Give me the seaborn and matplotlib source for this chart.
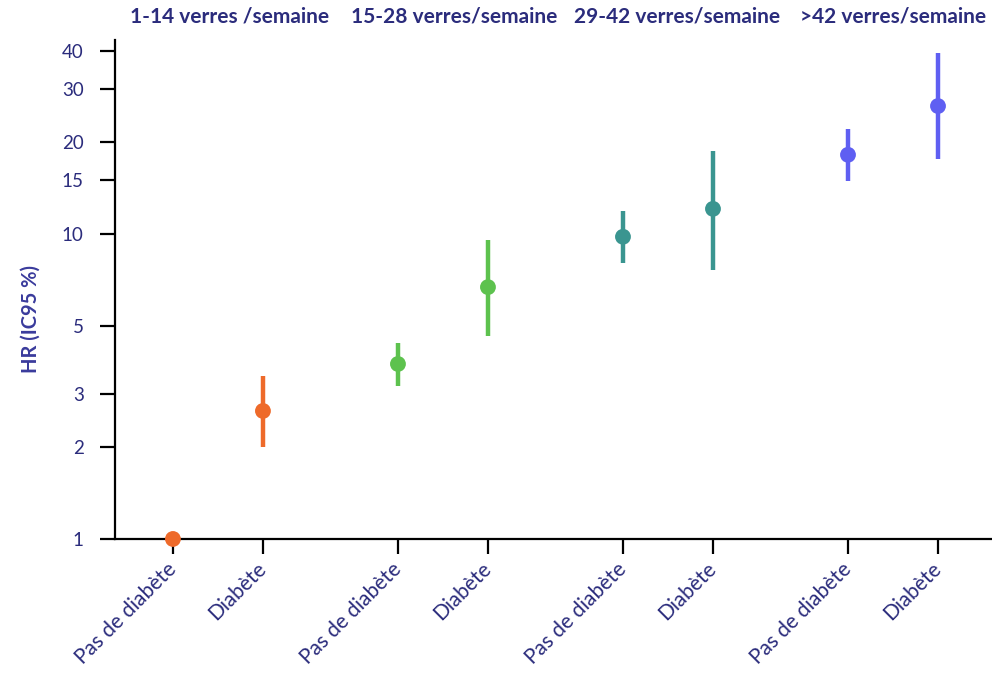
import numpy as np
import pandas as pd
import matplotlib
matplotlib.use("Agg")
import matplotlib.pyplot as plt
import seaborn as sns

# Consommation d'alcool et diabète : HR et IC 95 %
groups = ["1-14 verres /semaine", "15-28 verres/semaine",
          "29-42 verres/semaine", ">42 verres/semaine"]
status = ["Pas de diabète", "Diabète"]
hr = [1.0, 2.63, 3.75, 6.7, 9.8, 12.1, 18.2, 26.3]
ci_low = [1.0, 2.0, 3.17, 4.63, 8.03, 7.62, 14.9, 17.6]
ci_high = [1.0, 3.42, 4.39, 9.56, 11.9, 18.7, 22.1, 39.2]
yticks = [1, 2, 3, 5, 10, 15, 20, 30, 40]
group_colors = ["#EE6A2A", "#5DC24E", "#3A9590", "#5F5FF2"]

text_color = "#2B2C7C"

# positions: two points per group, extra gap between groups
xpos = []
for g in range(len(groups)):
    for s in range(len(status)):
        xpos.append(g * 2.5 + s)

df = pd.DataFrame({
    "x": xpos,
    "hr": hr,
    "low": ci_low,
    "high": ci_high,
    "groupe": np.repeat(groups, len(status)),
    "statut": status * len(groups),
})

sns.set_theme(style="white")
plt.rcParams["font.family"] = ["Lato", "DejaVu Sans"]

fig = plt.figure(figsize=(9.92, 6.82), dpi=100)
ax = fig.add_axes([0.1159, 0.2097, 0.8841, 0.7316])

palette = dict(zip(groups, group_colors))
for _, row in df.iterrows():
    if row["high"] > row["low"]:
        ax.vlines(row["x"], row["low"], row["high"], color=palette[row["groupe"]],
                  lw=3.2, zorder=2)

sns.scatterplot(data=df, x="x", y="hr", hue="groupe", palette=palette,
                s=130, edgecolor="none", legend=False, ax=ax, zorder=3,
                clip_on=False)

ax.set_yscale("log")
ax.set_ylim(1, 43.3)
ax.set_xlim(-0.644, 9.1)
ax.set_yticks(yticks)
ax.set_yticklabels([str(t) for t in yticks])
ax.minorticks_off()
ax.set_xticks(df["x"])
ax.set_xticklabels(df["statut"], rotation=45, ha="right", va="center",
                   rotation_mode="anchor")

for lab in ax.get_xticklabels():
    lab.set_fontsize(15)
    lab.set_color(text_color)
for lab in ax.get_yticklabels():
    lab.set_fontsize(13.5)
    lab.set_color(text_color)

ax.tick_params(axis="both", direction="out", length=10.5, width=1.6,
               color="black", bottom=True, left=True)
ax.tick_params(axis="x", pad=9)
ax.tick_params(axis="y", pad=12)

for side in ["top", "right"]:
    ax.spines[side].set_visible(False)
for side in ["left", "bottom"]:
    ax.spines[side].set_color("black")
    ax.spines[side].set_linewidth(1.6)

ax.set_xlabel("")
ax.set_ylabel("HR (IC95 %)", fontsize=14.5, fontweight="bold", color="#3A3B9C")
ax.yaxis.set_label_coords(-0.085, 0.44)

# group headings above the plot, nudged slightly right of each pair
heading_shift = [0.13, 0.13, 0.1, 0.0]
for g, name in enumerate(groups):
    cx = g * 2.5 + 0.5 + heading_shift[g]
    ax.text(cx, 1.0 + 24 / (0.7316 * 682), name,
            transform=ax.get_xaxis_transform(),
            ha="center", va="center", fontsize=15, fontweight="bold",
            color=text_color)

fig.savefig("out.png", dpi=100)
